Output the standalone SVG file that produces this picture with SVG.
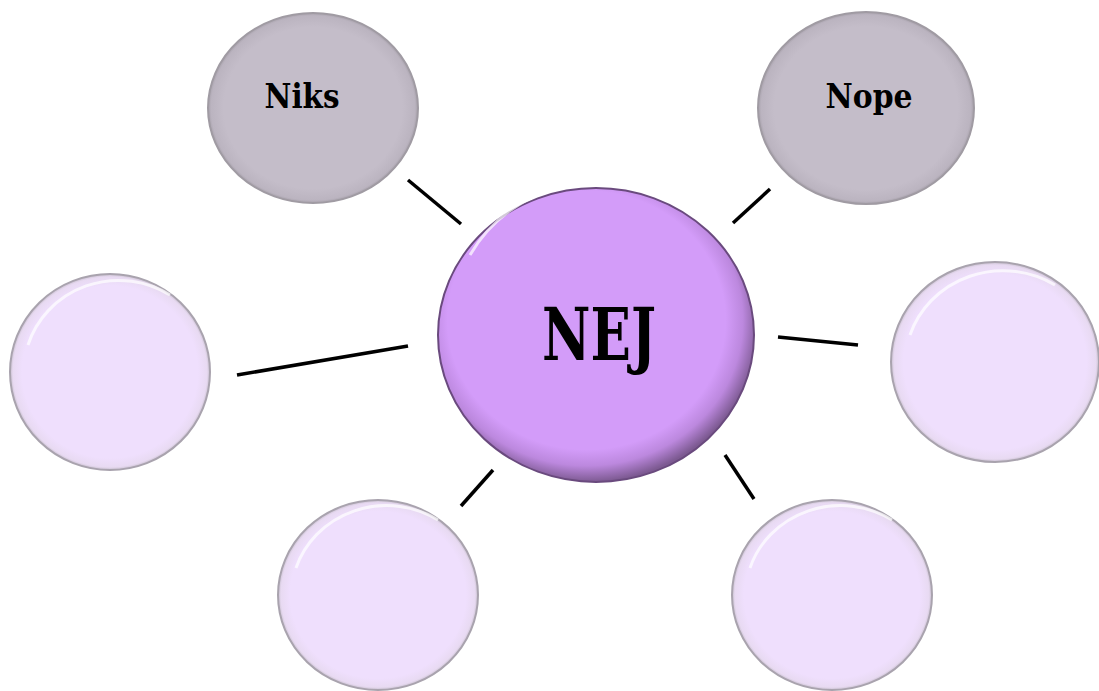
<svg xmlns="http://www.w3.org/2000/svg" width="1099" height="691" viewBox="0 0 1099 691">
<style>
.conn line{stroke:#000;stroke-width:3.5;stroke-linecap:butt}
.lbl{font-family:"DejaVu Serif","Liberation Serif",serif;font-weight:bold;fill:#000;text-anchor:middle}
.light{fill:url(#gLight);stroke:#A9A3AE;stroke-width:2}
.gray{fill:url(#gGray);stroke:#A09BA3;stroke-width:2}
.center{fill:url(#gCenter);stroke:#6A4A7E;stroke-width:2}
.hl{fill:none;stroke:#fff;stroke-opacity:0.7;stroke-width:3}
</style>
<defs>
<radialGradient id="gLight" cx="0.5" cy="0.5" r="0.5">
<stop offset="0.88" stop-color="#EFDFFD"/>
<stop offset="0.97" stop-color="#E8DAF2"/>
<stop offset="1" stop-color="#C9C0CF"/>
</radialGradient>
<radialGradient id="gGray" cx="0.5" cy="0.5" r="0.5">
<stop offset="0.85" stop-color="#C4BDC9"/>
<stop offset="0.97" stop-color="#BBB4C0"/>
<stop offset="1" stop-color="#A8A2AC"/>
</radialGradient>
<radialGradient id="gCenter" cx="0.47" cy="0.45" r="0.55">
<stop offset="0.8" stop-color="#D39CF9"/>
<stop offset="0.9" stop-color="#BC88DE"/>
<stop offset="1" stop-color="#7D5A92"/>
</radialGradient>
</defs>
<g class="conn" id="connectors">
<line x1="408" y1="180" x2="461" y2="224"/>
<line x1="733" y1="223" x2="770" y2="189"/>
<line x1="237" y1="375" x2="408" y2="346"/>
<line x1="778" y1="337" x2="858" y2="345"/>
<line x1="461" y1="506" x2="493" y2="470"/>
<line x1="725" y1="455" x2="754" y2="499"/>
</g>
<g id="node-niks">
<ellipse class="gray" cx="313" cy="108" rx="105" ry="95"/>
<text class="lbl" x="302" y="108" font-size="33" textLength="75" lengthAdjust="spacingAndGlyphs">Niks</text>
</g>
<g id="node-nope">
<ellipse class="gray" cx="866" cy="108" rx="108" ry="96"/>
<text class="lbl" x="869" y="108" font-size="33" textLength="87" lengthAdjust="spacingAndGlyphs">Nope</text>
</g>
<g id="node-nej">
<ellipse class="center" cx="596" cy="335" rx="158" ry="147"/>
<path class="hl" d="M470,255 A150,140 0 0 1 700,215" stroke-opacity="0.5"/>
<text class="lbl" x="599" y="360" font-size="72" textLength="114" lengthAdjust="spacingAndGlyphs">NEJ</text>
</g>
<g id="node-left">
<ellipse class="light" cx="110" cy="372" rx="100" ry="98"/>
<path class="hl" d="M28,345 A95,92 0 0 1 170,295"/>
</g>
<g id="node-right">
<ellipse class="light" cx="995" cy="362" rx="104" ry="100"/>
<path class="hl" d="M910,335 A98,94 0 0 1 1055,285"/>
</g>
<g id="node-bottom-left">
<ellipse class="light" cx="378" cy="595" rx="100" ry="95"/>
<path class="hl" d="M296,568 A95,90 0 0 1 438,520"/>
</g>
<g id="node-bottom-right">
<ellipse class="light" cx="832" cy="595" rx="100" ry="95"/>
<path class="hl" d="M750,568 A95,90 0 0 1 892,520"/>
</g>
</svg>
